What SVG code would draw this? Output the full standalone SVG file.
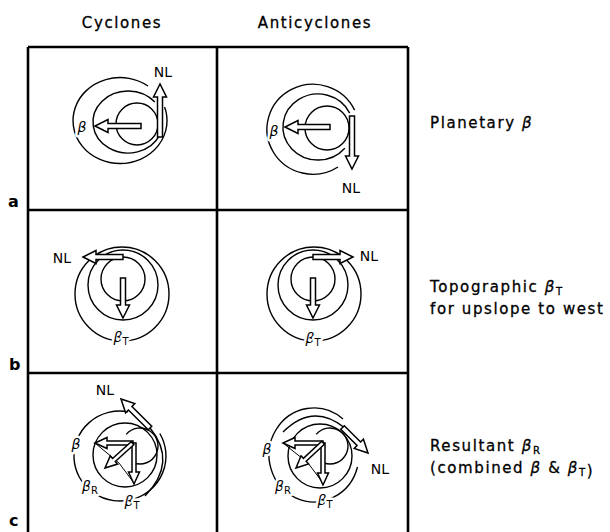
<svg xmlns="http://www.w3.org/2000/svg" width="610" height="532" viewBox="0 0 610 532">
<style>
.frame{fill:none;stroke:#000;stroke-width:2.6}
.trk{fill:none;stroke:#000;stroke-width:1.4}
.thin{fill:none;stroke:#000;stroke-width:1}
.oa{fill:#fff;stroke:#000;stroke-width:1.5;stroke-linejoin:miter}
text{font-family:"DejaVu Sans","Liberation Sans",sans-serif;fill:#000}
.hd{font-size:15px;letter-spacing:1.6px;text-anchor:middle;stroke:#000;stroke-width:0.3px}
.side{font-size:15px;letter-spacing:1.6px;stroke:#000;stroke-width:0.3px}
.lbl{font-size:14px;text-anchor:middle;paint-order:stroke;stroke:#fff;stroke-width:5px;stroke-linejoin:round}
.b{font-style:italic}
.sub{font-size:10px;font-style:normal}
.row{font-size:16px;font-weight:bold}
</style>
<rect width="610" height="532" fill="#fff"/>
<g id="headers">
<text class="hd" x="122" y="28">Cyclones</text>
<text class="hd" x="315" y="28">Anticyclones</text>
</g>
<g id="grid">
<path class="frame" d="M28,47 H408 M28,47 V532 M217,47 V532 M408,47 V532 M28,210 H408 M28,373 H408"/>
<text class="row" x="8" y="207">a</text>
<text class="row" x="9" y="370">b</text>
<text class="row" x="9" y="526">c</text>
</g>
<g id="connectors">
<!-- a cyclone -->
<circle class="trk" cx="137" cy="124" r="21"/>
<path class="trk" d="M154.8,102.1 A35,31 0 1 0 159.7,135.1"/>
<path class="trk" d="M148,86 A47,43 0 1 0 164.6,106.9"/>
<!-- a anticyclone -->
<circle class="trk" cx="327" cy="128" r="22"/>
<path class="trk" d="M344.8,148.2 A35,33 0 1 1 349.7,113.1"/>
<path class="trk" d="M338,167 A46,45 0 1 1 354.6,110.1"/>
<!-- b cyclone -->
<circle class="trk" cx="123" cy="279" r="22"/>
<circle class="trk" cx="123" cy="285" r="35"/>
<circle class="trk" cx="122" cy="294" r="47"/>
<!-- b anticyclone -->
<circle class="trk" cx="313" cy="279" r="22"/>
<circle class="trk" cx="313" cy="285" r="35"/>
<circle class="trk" cx="314" cy="294" r="47"/>
<!-- c cyclone -->
<circle class="trk" cx="125" cy="455" r="32"/>
<path class="trk" d="M126.2,434.4 A18,18 0 1 1 133.8,462.9"/>
<path class="trk" d="M128,411.7 A46,45 0 1 0 159.8,433.5"/>
<path class="trk" d="M150,428 Q178,462 145,496"/>
<path class="thin" d="M95,443 L119,463 L134,483"/>
<!-- c anticyclone -->
<circle class="trk" cx="320" cy="456" r="32"/>
<path class="trk" d="M316.2,434.4 A18,18 0 1 1 323.8,462.9"/>
<path class="trk" d="M357.5,467 A45,47 0 1 1 343,419"/>
<path class="trk" d="M283,432 Q313,402 345,428"/>
<path class="thin" d="M283,443 L308,463 L323,483"/>
</g>
<g id="arrows">
<polygon class="oa" transform="translate(160,84) rotate(-90)" points="0,0 -13,-6.5 -13,-2.5 -53,-2.5 -53,2.5 -13,2.5 -13,6.5"/>
<polygon class="oa" transform="translate(95,126) rotate(180)" points="0,0 -13,-6.5 -13,-2.5 -46,-2.5 -46,2.5 -13,2.5 -13,6.5"/>
<polygon class="oa" transform="translate(352,169) rotate(90)" points="0,0 -13,-6.5 -13,-2.5 -53,-2.5 -53,2.5 -13,2.5 -13,6.5"/>
<polygon class="oa" transform="translate(285,127) rotate(180)" points="0,0 -13,-6.5 -13,-2.5 -45,-2.5 -45,2.5 -13,2.5 -13,6.5"/>
<polygon class="oa" transform="translate(83,257) rotate(180)" points="0,0 -13,-6.5 -13,-2.5 -40,-2.5 -40,2.5 -13,2.5 -13,6.5"/>
<polygon class="oa" transform="translate(123,318) rotate(90)" points="0,0 -13,-6.5 -13,-2.5 -40,-2.5 -40,2.5 -13,2.5 -13,6.5"/>
<polygon class="oa" transform="translate(353,257)" points="0,0 -13,-6.5 -13,-2.5 -40,-2.5 -40,2.5 -13,2.5 -13,6.5"/>
<polygon class="oa" transform="translate(313,318) rotate(90)" points="0,0 -13,-6.5 -13,-2.5 -40,-2.5 -40,2.5 -13,2.5 -13,6.5"/>
<polygon class="oa" transform="translate(121,399) rotate(-135)" points="0,0 -13,-6.5 -13,-2.5 -41,-2.5 -41,2.5 -13,2.5 -13,6.5"/>
<polygon class="oa" transform="translate(95,443) rotate(180)" points="0,0 -12,-5.5 -12,-2 -38,-2 -38,2 -12,2 -12,5.5"/>
<polygon class="oa" transform="translate(134,484) rotate(90)" points="0,0 -12,-5.5 -12,-2 -41,-2 -41,2 -12,2 -12,5.5"/>
<polygon class="oa" transform="translate(105,468) rotate(138)" points="0,0 -12,-5.5 -12,-2 -37,-2 -37,2 -12,2 -12,5.5"/>
<polygon class="oa" transform="translate(368,453) rotate(45)" points="0,0 -13,-6.5 -13,-2.5 -36,-2.5 -36,2.5 -13,2.5 -13,6.5"/>
<polygon class="oa" transform="translate(283,443) rotate(180)" points="0,0 -12,-5.5 -12,-2 -40,-2 -40,2 -12,2 -12,5.5"/>
<polygon class="oa" transform="translate(323,485) rotate(90)" points="0,0 -12,-5.5 -12,-2 -42,-2 -42,2 -12,2 -12,5.5"/>
<polygon class="oa" transform="translate(296,468) rotate(137)" points="0,0 -12,-5.5 -12,-2 -37,-2 -37,2 -12,2 -12,5.5"/>
</g>
<g id="labels">
<text class="lbl b" x="82" y="132">β</text>
<text class="lbl" x="163" y="77">NL</text>
<text class="lbl b" x="274" y="136">β</text>
<text class="lbl" x="351" y="193">NL</text>
<text class="lbl" x="62" y="263">NL</text>
<text class="lbl b" x="121" y="342">β<tspan class="sub" dy="3">T</tspan></text>
<text class="lbl" x="369" y="261">NL</text>
<text class="lbl b" x="313" y="343">β<tspan class="sub" dy="3">T</tspan></text>
<text class="lbl" x="105" y="395">NL</text>
<text class="lbl b" x="76" y="449">β</text>
<text class="lbl b" x="90" y="491">β<tspan class="sub" dy="3">R</tspan></text>
<text class="lbl b" x="132" y="506">β<tspan class="sub" dy="3">T</tspan></text>
<text class="lbl" x="380" y="474">NL</text>
<text class="lbl b" x="267" y="454">β</text>
<text class="lbl b" x="283" y="491">β<tspan class="sub" dy="3">R</tspan></text>
<text class="lbl b" x="325" y="505">β<tspan class="sub" dy="3">T</tspan></text>
</g>
<g id="side-labels">
<text class="side" x="430" y="128">Planetary <tspan class="b">β</tspan></text>
<text class="side" x="430" y="292">Topographic <tspan class="b">β</tspan><tspan class="sub" dy="3">T</tspan></text>
<text class="side" x="430" y="314">for upslope to west</text>
<text class="side" x="430" y="451">Resultant <tspan class="b">β</tspan><tspan class="sub" dy="3">R</tspan></text>
<text class="side" x="430" y="473">(combined <tspan class="b">β</tspan> &amp; <tspan class="b">β</tspan><tspan class="sub" dy="3">T</tspan>)</text>
</g>
</svg>
